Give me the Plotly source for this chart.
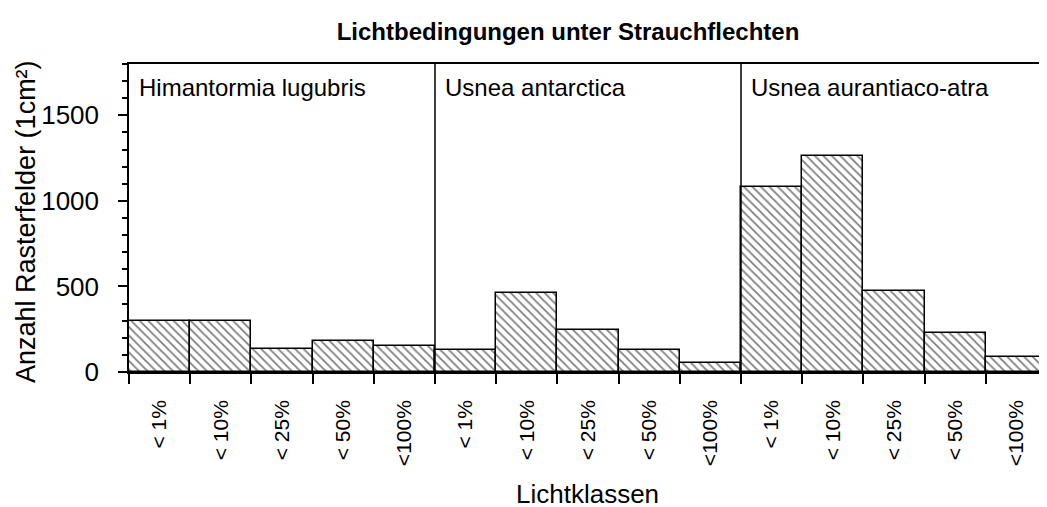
import plotly.graph_objects as go

# Data
species = ["Himantormia lugubris", "Usnea antarctica", "Usnea aurantiaco-atra"]
light_classes = ["< 1%", "< 10%", "< 25%", "< 50%", "<100%"]
himantormia = [300, 300, 135, 180, 150]
usnea_ant = [130, 460, 245, 130, 55]
usnea_aur = [1080, 1265, 475, 230, 85]

values = himantormia + usnea_ant + usnea_aur
labels = light_classes * len(species)
xpos = list(range(len(values)))

FONT = "Liberation Sans, Arial, sans-serif"
W, H = 1047, 507
OFF = 8  # page body margin shifts the figure by 8px
L, T, R, B = 129 - OFF, 64 - OFF, OFF, H - (372 - OFF)
pw, ph = W - L - R, H - T - B


def px2paper(x, y):
    # screen pixel position in the reference -> paper coords
    return (x - OFF - L) / pw, (H - (y - OFF) - B) / ph


fig = go.Figure()
fig.add_trace(go.Bar(x=xpos, y=values, width=1,
                     marker=dict(color="white",
                                 line=dict(color="black", width=1.5),
                                 pattern=dict(shape="\\", size=6, solidity=0.3,
                                              fgcolor="black", bgcolor="white")),
                     showlegend=False, hoverinfo="y"))

# group separators and species names
n = len(light_classes)
for i, name in enumerate(species):
    if i > 0:
        fig.add_shape(type="line", xref="x", yref="y",
                      x0=i * n - 0.5, x1=i * n - 0.5, y0=0, y1=1800,
                      line=dict(color="black", width=1.5))
    fig.add_annotation(x=i * n - 0.5, y=1800, xref="x", yref="y",
                       text=name, showarrow=False, xanchor="left", yanchor="top",
                       xshift=8, yshift=-8, font=dict(size=24, color="black", family=FONT))

# axis titles as annotations
ax, ay = px2paper(587, 494)
fig.add_annotation(x=ax, y=ay, xref="paper", yref="paper", xanchor="center", yanchor="middle",
                   text="Lichtklassen", showarrow=False,
                   font=dict(size=26, color="black", family=FONT))
ax, ay = px2paper(26, 222)
fig.add_annotation(x=ax, y=ay, xref="paper", yref="paper", xanchor="center", yanchor="middle",
                   text="Anzahl Rasterfelder (1cm²)", showarrow=False, textangle=-90,
                   font=dict(size=27, color="black", family=FONT))

fig.update_layout(
    width=W, height=H,
    paper_bgcolor="white", plot_bgcolor="white",
    margin=dict(l=L, r=R, t=T, b=B),
    font=dict(family=FONT, color="black"),
    title=dict(text="<b>Lichtbedingungen unter Strauchflechten</b>",
               x=(568 - OFF) / W, xref="container", xanchor="center",
               y=1 - (32 - OFF) / H, yref="container", yanchor="middle",
               font=dict(size=24, color="black")),
    bargap=0,
)

fig.update_xaxes(range=[-0.5, len(values) - 0.5],
                 tickvals=xpos, ticktext=labels, tickangle=-90,
                 ticks="", ticklabelstandoff=18,
                 tickfont=dict(size=21),
                 showline=True, linecolor="black", linewidth=1.5, mirror=True,
                 showgrid=False, zeroline=False, automargin=False,
                 minor=dict(tickmode="array", tickvals=[v - 0.5 for v in xpos] + [len(values) - 0.5],
                            ticks="outside", ticklen=10, tickcolor="black", tickwidth=1.5))

fig.update_yaxes(range=[0, 1800], tickvals=[0, 500, 1000, 1500],
                 ticks="outside", ticklen=9, tickwidth=1.5, tickcolor="black",
                 tickfont=dict(size=26), ticklabelstandoff=14,
                 minor=dict(dtick=100, tick0=0, ticks="outside", ticklen=5,
                            tickcolor="black", tickwidth=1.5),
                 showline=True, linecolor="black", linewidth=1.5,
                 showgrid=False, zeroline=False, automargin=False)

fig.write_html("out.html")
